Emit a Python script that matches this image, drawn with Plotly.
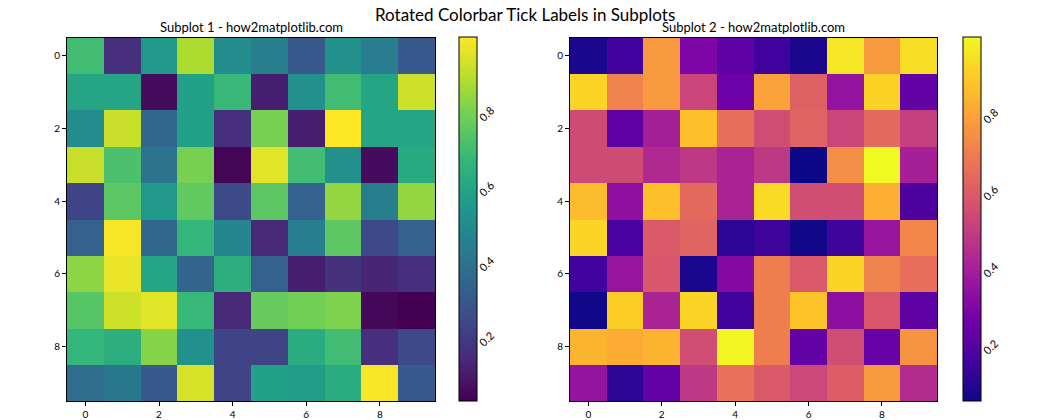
import plotly.graph_objects as go

rows = list(range(10))
cols = list(range(10))
tick_vals = [0, 2, 4, 6, 8]
cbar_ticks = [0.2, 0.4, 0.6, 0.8]

data1 = [
    [0.70, 0.16, 0.55, 0.88, 0.50, 0.45, 0.30, 0.52, 0.44, 0.30],
    [0.60, 0.60, 0.06, 0.58, 0.68, 0.11, 0.52, 0.70, 0.60, 0.93],
    [0.50, 0.92, 0.35, 0.58, 0.16, 0.80, 0.11, 1.00, 0.60, 0.60],
    [0.92, 0.72, 0.40, 0.80, 0.04, 0.96, 0.70, 0.52, 0.06, 0.62],
    [0.23, 0.75, 0.55, 0.76, 0.25, 0.75, 0.33, 0.84, 0.45, 0.84],
    [0.33, 0.99, 0.35, 0.67, 0.48, 0.14, 0.45, 0.75, 0.25, 0.33],
    [0.83, 0.97, 0.60, 0.34, 0.64, 0.33, 0.11, 0.17, 0.13, 0.16],
    [0.74, 0.93, 0.96, 0.68, 0.14, 0.77, 0.79, 0.81, 0.05, 0.03],
    [0.67, 0.64, 0.82, 0.52, 0.23, 0.23, 0.63, 0.70, 0.16, 0.25],
    [0.37, 0.42, 0.30, 0.94, 0.23, 0.58, 0.56, 0.63, 0.99, 0.30],
]

data2 = [
    [0.08, 0.15, 0.77, 0.29, 0.22, 0.15, 0.08, 0.96, 0.77, 0.94],
    [0.92, 0.71, 0.77, 0.52, 0.25, 0.80, 0.61, 0.35, 0.91, 0.23],
    [0.54, 0.22, 0.40, 0.87, 0.65, 0.55, 0.62, 0.52, 0.64, 0.50],
    [0.54, 0.54, 0.43, 0.48, 0.41, 0.48, 0.055, 0.74, 1.00, 0.40],
    [0.86, 0.34, 0.87, 0.64, 0.41, 0.93, 0.55, 0.55, 0.83, 0.18],
    [0.92, 0.17, 0.59, 0.62, 0.11, 0.145, 0.06, 0.145, 0.36, 0.72],
    [0.15, 0.36, 0.58, 0.08, 0.31, 0.70, 0.59, 0.92, 0.71, 0.65],
    [0.06, 0.90, 0.41, 0.92, 0.15, 0.70, 0.88, 0.33, 0.58, 0.22],
    [0.84, 0.82, 0.84, 0.55, 0.99, 0.70, 0.23, 0.55, 0.24, 0.76],
    [0.35, 0.11, 0.23, 0.48, 0.66, 0.59, 0.53, 0.60, 0.77, 0.44],
]

W, H = 1050, 420
def fx(px):
    return px / W
def fy(py):
    return 1 - py / H

top, bot = 38, 405
fig = go.Figure()

def cbar(xpx):
    return dict(
        x=fx(xpx), xanchor="left", y=fy(bot), yanchor="bottom",
        len=(bot - top) / H, lenmode="fraction", thickness=18, thicknessmode="pixels",
        outlinecolor="black", outlinewidth=1,
        tickvals=cbar_ticks, tickangle=-45, ticks="", ticklabelposition="outside bottom",
        tickfont=dict(size=11, color="black"), xpad=0, ypad=0,
    )

fig.add_trace(go.Heatmap(
    z=data1, x=cols, y=rows, colorscale="Viridis",
    xaxis="x", yaxis="y", colorbar=cbar(459),
))
fig.add_trace(go.Heatmap(
    z=data2, x=cols, y=rows, colorscale="Plasma",
    xaxis="x2", yaxis="y2", colorbar=cbar(963),
))

axis_common = dict(
    showgrid=False, zeroline=False, showline=True, linecolor="black", linewidth=1,
    mirror=True, ticks="outside", ticklen=4, tickcolor="black",
    tickvals=tick_vals, tickfont=dict(size=10, color="black"),
)

fig.update_layout(
    width=W, height=H,
    margin=dict(l=0, r=0, t=0, b=0),
    paper_bgcolor="white", plot_bgcolor="white",
    font=dict(family="Lato, DejaVu Sans, sans-serif", color="black"),
    xaxis=dict(domain=[fx(67), fx(435)], range=[-0.5, 9.5], anchor="y", **axis_common),
    yaxis=dict(domain=[fy(bot), fy(top)], range=[9.5, -0.5], anchor="x", **axis_common),
    xaxis2=dict(domain=[fx(570), fx(937)], range=[-0.5, 9.5], anchor="y2", **axis_common),
    yaxis2=dict(domain=[fy(bot), fy(top)], range=[9.5, -0.5], anchor="x2", **axis_common),
    annotations=[
        dict(text="Rotated Colorbar Tick Labels in Subplots", x=0.5, y=fy(15),
             xref="paper", yref="paper", showarrow=False, xanchor="center", yanchor="middle",
             font=dict(size=17, color="black")),
        dict(text="Subplot 1 - how2matplotlib.com", x=(fx(67) + fx(435)) / 2, y=fy(27),
             xref="paper", yref="paper", showarrow=False, xanchor="center", yanchor="middle",
             font=dict(size=13, color="black")),
        dict(text="Subplot 2 - how2matplotlib.com", x=(fx(570) + fx(937)) / 2, y=fy(27),
             xref="paper", yref="paper", showarrow=False, xanchor="center", yanchor="middle",
             font=dict(size=13, color="black")),
    ],
)

fig.write_html("out.html")
